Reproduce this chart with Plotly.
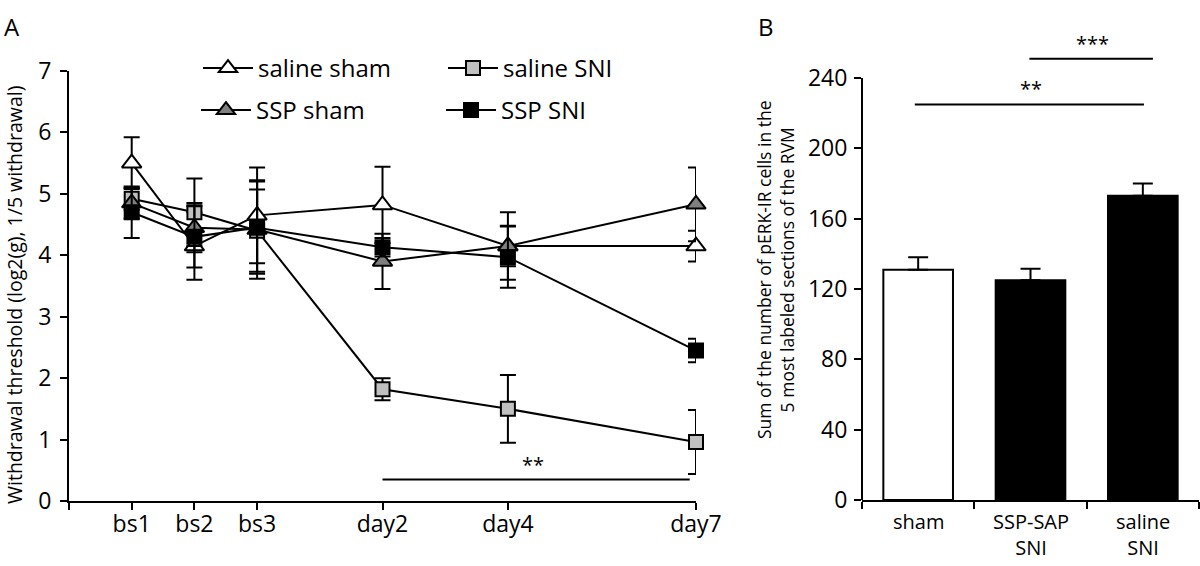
import plotly.graph_objects as go

# ---------------- data ----------------
time_x = [1, 2, 3, 5, 7, 10]
time_labels = ["bs1", "bs2", "bs3", "day2", "day4", "day7"]

saline_sham = [5.50, 4.15, 4.65, 4.82, 4.15, 4.15]
saline_sham_err = [0.42, 0.55, 0.78, 0.62, 0.55, 0.25]
saline_sni = [4.92, 4.70, 4.40, 1.82, 1.50, 0.96]
saline_sni_err = [0.18, 0.55, 0.67, 0.18, 0.55, 0.52]
ssp_sham = [4.85, 4.45, 4.42, 3.90, 4.15, 4.83]
ssp_sham_err = [0.25, 0.40, 0.80, 0.45, 0.33, 0.60]
ssp_sni = [4.70, 4.30, 4.45, 4.13, 3.97, 2.45]
ssp_sni_err = [0.42, 0.50, 0.75, 0.15, 0.50, 0.19]

bar_cats = ["sham", "SSP-SAP<br>SNI", "saline<br>SNI"]
bar_pos = [0.5, 1.5, 2.5]
bar_vals = [131, 125, 173]
bar_err = [7, 6.5, 7]

W, H = 1200, 566
FONT = "Open Sans"

def fx(p):
    return p / W

def fy(p):
    return 1 - p / H

fig = go.Figure()

series = [
    ("saline sham", saline_sham, saline_sham_err, "triangle-up", "white", "legend", 17),
    ("saline SNI", saline_sni, saline_sni_err, "square", "#c0c0c0", "legend", 14),
    ("SSP sham", ssp_sham, ssp_sham_err, "triangle-up", "#7f7f7f", "legend2", 17),
    ("SSP SNI", ssp_sni, ssp_sni_err, "square", "black", "legend2", 14),
]
for name, vals, errs, sym, col, leg, size in series:
    fig.add_trace(go.Scatter(
        x=time_x, y=vals, name=name, mode="lines+markers",
        line=dict(color="black", width=2),
        marker=dict(symbol=sym, size=size, color=col, line=dict(color="black", width=2)),
        error_y=dict(type="data", array=errs, color="black", thickness=2, width=8),
        xaxis="x", yaxis="y", legend=leg, cliponaxis=False,
    ))

bar_colors = ["white", "black", "black"]
fig.add_trace(go.Bar(
    x=bar_pos, y=bar_vals, width=0.62, showlegend=False,
    marker=dict(color=bar_colors, line=dict(color="black", width=2)),
    error_y=dict(type="data", array=bar_err, arrayminus=[0, 0, 0], symmetric=False,
                 color="black", thickness=2, width=10),
    xaxis="x2", yaxis="y2",
))

axis_common = dict(
    showgrid=False, zeroline=False, linecolor="black", linewidth=2,
    ticks="outside", tickcolor="black", tickwidth=2, ticklen=7, automargin=False,
    tickfont=dict(family=FONT, size=23, color="black"),
)

fig.update_layout(
    width=W, height=H, margin=dict(l=0, r=0, t=0, b=0, autoexpand=False),
    plot_bgcolor="white", paper_bgcolor="white",
    font=dict(family=FONT, color="black"),
    xaxis=dict(domain=[fx(69), fx(696)], range=[0, 10], showline=True,
               tickvals=[0] + time_x, ticktext=[""] + time_labels,
               anchor="y", ticklabelstandoff=-6, **axis_common),
    yaxis=dict(domain=[fy(501), fy(71)], range=[0, 7], showline=True,
               tickvals=list(range(8)), anchor="x", ticklabelstandoff=4, **axis_common),
    xaxis2=dict(domain=[fx(862), fx(1199)], range=[0, 3], showline=True,
                tickvals=[0, 1, 2, 3], ticktext=["", "", "", ""], anchor="y2", **axis_common),
    yaxis2=dict(domain=[fy(500), fy(500 - 262 * 422 / 240)], range=[0, 262], showline=False,
                tickvals=[0, 40, 80, 120, 160, 200, 240], anchor="x2", ticklabelstandoff=2,
                **axis_common),
    legend=dict(orientation="h", x=fx(198), y=fy(46), xanchor="left", yanchor="top",
                entrywidth=180, font=dict(family=FONT, size=24, color="black"),
                bgcolor="rgba(0,0,0,0)", itemwidth=50, tracegroupgap=0),
    legend2=dict(orientation="h", x=fx(196), y=fy(88), xanchor="left", yanchor="top",
                 entrywidth=180, font=dict(family=FONT, size=24, color="black"),
                 bgcolor="rgba(0,0,0,0)", itemwidth=50, tracegroupgap=0),
)

# right y-axis line (only up to 240)
fig.add_shape(type="line", xref="x2 domain", yref="y2", x0=0, x1=0, y0=0, y1=240,
              line=dict(color="black", width=2))

# significance lines
fig.add_shape(type="line", xref="x", yref="y", x0=5, x1=9.9, y0=0.35, y1=0.35,
              line=dict(color="black", width=2))
fig.add_annotation(x=7.4, y=0.35, xref="x", yref="y", text="**", showarrow=False,
                   yanchor="bottom", font=dict(family=FONT, size=20))
fig.add_shape(type="line", xref="x2", yref="y2", x0=0.47, x1=2.51, y0=225, y1=225,
              line=dict(color="black", width=2))
fig.add_annotation(x=1.5, y=225, xref="x2", yref="y2", text="**", showarrow=False,
                   yanchor="bottom", font=dict(family=FONT, size=20))
fig.add_shape(type="line", xref="x2", yref="y2", x0=1.49, x1=2.59, y0=251, y1=251,
              line=dict(color="black", width=2))
fig.add_annotation(x=2.05, y=251, xref="x2", yref="y2", text="***", showarrow=False,
                   yanchor="bottom", font=dict(family=FONT, size=20))

# category labels
for pos, lab in zip(bar_pos, bar_cats):
    if "<br>" not in lab:
        lab = "<br>" + lab
    fig.add_annotation(x=pos, y=fy(506), xref="x2", yref="paper", text=lab,
                       showarrow=False, xanchor="center", yanchor="top",
                       font=dict(family=FONT, size=20, color="black"))

# axis titles
fig.add_annotation(x=fx(14), y=fy(295), xref="paper", yref="paper",
                   text="Withdrawal threshold (log2(g), 1/5 withdrawal)", textangle=-90,
                   xanchor="center", yanchor="middle",
                   showarrow=False, font=dict(family=FONT, size=19.5, color="black"))
fig.add_annotation(x=fx(775), y=fy(270), xref="paper", yref="paper",
                   text="Sum of the number of pERK-IR cells in the<br>5 most labeled sections of the RVM",
                   textangle=-90, showarrow=False, xanchor="center", yanchor="middle",
                   font=dict(family=FONT, size=17.5, color="black"))

# panel letters
fig.add_annotation(x=fx(2), y=fy(8), xref="paper", yref="paper", text="A",
                   showarrow=False, xanchor="left", yanchor="top",
                   font=dict(family=FONT, size=24, color="black"))
fig.add_annotation(x=fx(756), y=fy(8), xref="paper", yref="paper", text="B",
                   showarrow=False, xanchor="left", yanchor="top",
                   font=dict(family=FONT, size=24, color="black"))

fig.write_html("out.html", config={"displayModeBar": False},
               post_script="document.body.style.margin='0px';")
